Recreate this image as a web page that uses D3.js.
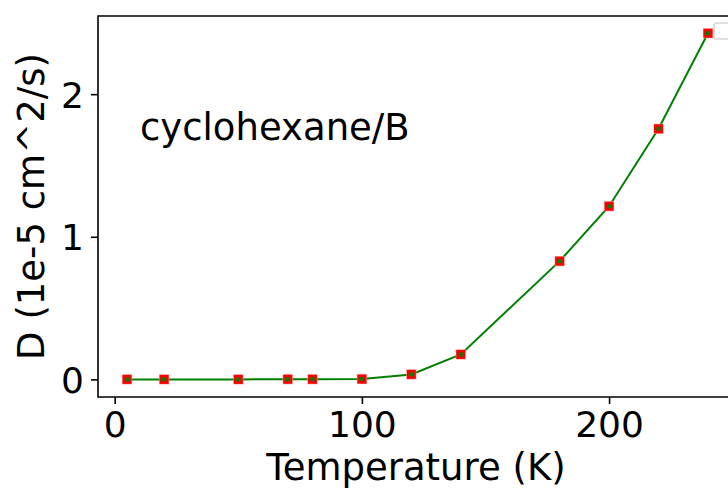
<!DOCTYPE html>
<html>
<head>
<meta charset="utf-8">
<script src="https://cdn.jsdelivr.net/npm/d3@7"></script>
<style>
  html, body { margin: 0; padding: 0; background: #fff; }
  svg { display: block; }
  text { font-family: "DejaVu Sans", sans-serif; fill: #000; }
</style>
</head>
<body>
<svg id="chart" width="728" height="493"></svg>
<script>
// Diffusion coefficient of B in cyclohexane vs temperature
const temperatures = [5, 20, 50, 70, 80, 100, 120, 140, 180, 200, 220, 240];
const diffusion = [0.0, 0.0, 0.0, 0.001, 0.001, 0.002, 0.035, 0.175, 0.829, 1.214, 1.757, 2.427];
const xTicks = [0, 100, 200];
const yTicks = [0, 1, 2];
const annotation = "cyclohexane/B";
const xLabel = "Temperature (K)";
const yLabel = "D (1e-5 cm^2/s)";

const svg = d3.select("#chart");
const plot = { left: 98, top: 16, right: 737, bottom: 397 };
const tickFont = 36;
const labelFont = 37;

const x = d3.scaleLinear().domain([-6.75, 251.75]).range([plot.left, plot.right]);
const y = d3.scaleLinear().domain([-0.1235, 2.548]).range([plot.bottom, plot.top]);

// x axis
const xAxis = svg.append("g")
  .attr("transform", `translate(0,${plot.bottom})`)
  .call(d3.axisBottom(x).tickValues(xTicks).tickSize(7).tickPadding(7).tickFormat(d3.format("d")));
xAxis.select(".domain").remove();
xAxis.selectAll(".tick line").attr("stroke", "#000").attr("stroke-width", 1.6);
xAxis.selectAll(".tick text").attr("font-size", tickFont).attr("dy", "0.71em")
  .attr("y", 14).style("font-family", "DejaVu Sans");

// y axis
const yAxis = svg.append("g")
  .attr("transform", `translate(${plot.left},0)`)
  .call(d3.axisLeft(y).tickValues(yTicks).tickSize(7).tickPadding(7).tickFormat(d3.format("d")));
yAxis.select(".domain").remove();
yAxis.selectAll(".tick line").attr("stroke", "#000").attr("stroke-width", 1.6);
yAxis.selectAll(".tick text").attr("font-size", tickFont).attr("dy", "0.36em")
  .attr("x", -14).style("font-family", "DejaVu Sans");

// spines (left, top, bottom; right edge falls outside the canvas)
svg.append("path")
  .attr("d", `M${plot.right},${plot.top}H${plot.left}V${plot.bottom}H${plot.right}`)
  .attr("fill", "none").attr("stroke", "#000").attr("stroke-width", 1.6);

// line
const line = d3.line().x((d, i) => x(temperatures[i])).y(d => y(d));
svg.append("path")
  .datum(diffusion)
  .attr("d", line)
  .attr("fill", "none").attr("stroke", "green").attr("stroke-width", 2);

// square markers: red edge, green face
const m = 9, inner = 4;
const marks = svg.append("g").selectAll("g").data(diffusion).join("g")
  .attr("transform", (d, i) => `translate(${x(temperatures[i])},${y(d)})`);
marks.append("rect").attr("x", -m / 2 - 0.5).attr("y", -m / 2 - 0.5).attr("width", m + 1).attr("height", m + 1)
  .attr("fill", "#ff9a9a");
marks.append("rect").attr("x", -m / 2).attr("y", -m / 2).attr("width", m).attr("height", m).attr("fill", "red");
marks.append("rect").attr("x", -inner / 2).attr("y", -inner / 2).attr("width", inner).attr("height", inner).attr("fill", "green");

// empty legend frame
svg.append("rect")
  .attr("x", 714).attr("y", 23).attr("width", 28).attr("height", 16).attr("rx", 3)
  .attr("fill", "#fff").attr("fill-opacity", 0.8).attr("stroke", "#d6d6d6").attr("stroke-width", 1.6);

// annotation
svg.append("text").attr("x", 140).attr("y", 140).attr("font-size", labelFont).text(annotation);

// axis labels
svg.append("text").attr("x", 416).attr("y", 480)
  .attr("text-anchor", "middle").attr("font-size", labelFont).text(xLabel);
svg.append("text")
  .attr("transform", `translate(44,${(plot.top + plot.bottom) / 2}) rotate(-90)`)
  .attr("text-anchor", "middle").attr("font-size", labelFont).text(yLabel);
</script>
</body>
</html>
